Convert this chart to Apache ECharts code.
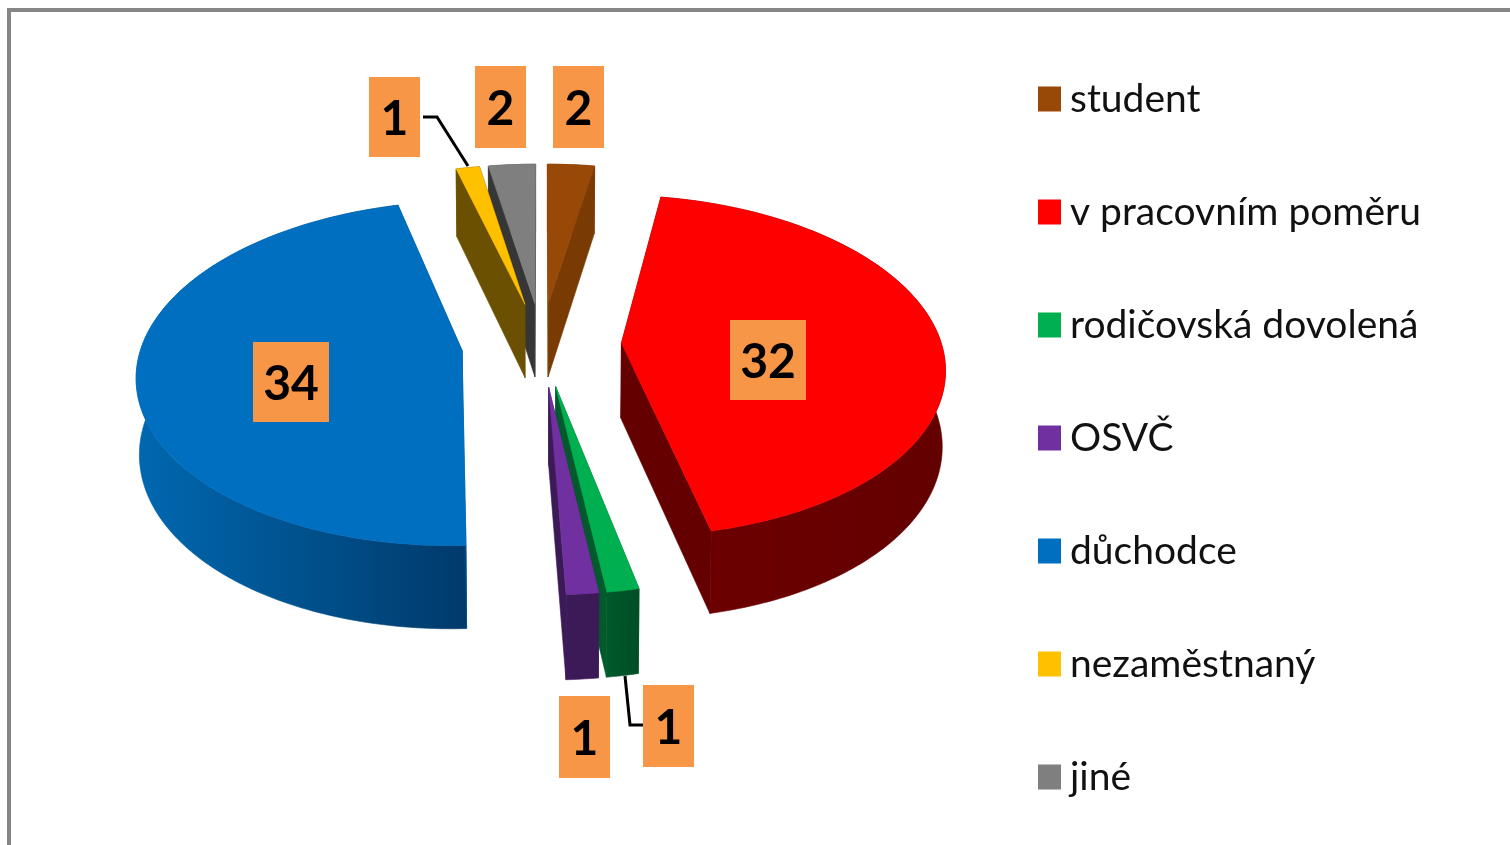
<!DOCTYPE html>
<html>
<head>
<meta charset="utf-8">
<style>
	html, body { margin: 0; padding: 0; background: #fff; }
	#chart { width: 1510px; height: 845px; }
</style>
<script src="https://cdn.jsdelivr.net/npm/echarts@6/dist/echarts.min.js"></script>
</head>
<body>
<div id="chart"></div>
<script>
// data
const categories = ['student', 'v pracovním poměru', 'rodičovská dovolená', 'OSVČ', 'důchodce', 'nezaměstnaný', 'jiné'];
const values = [2, 32, 1, 1, 34, 1, 2];
const topColors = ['#984807', '#ff0000', '#00b050', '#7030a0', '#006fc0', '#ffc000', '#7f7f7f'];
const wallColors = ['#7a3a03', '#640000', '#005a2c', '#3c1a58', '#004c86', '#6a5000', '#363636'];
const rimStops = [null, ['#6e0000', '#630000'], ['#005a2c', '#004d26'], ['#3c1a58', '#3c1a58'], ['#0068b0', '#003a6b'], ['#6a5000', '#6a5000'], ['#444', '#444']];

// data label boxes: [left, top, width, height]
const labelBoxes = [
	[553, 66, 51, 82],
	[730, 320, 76, 80],
	[643, 685, 51, 82],
	[559, 696, 51, 82],
	[253, 342, 76, 80],
	[369, 77, 51, 80],
	[475, 66, 51, 82]
];
const leaders = {
	2: [[625, 676], [630, 725], [643, 725]],
	5: [[423, 117], [437, 117], [468, 166]]
};

// projection of the tilted pie
const CX = 541.5, CY = 344, R = 320, EXPLODE = 80, DEPTH = 75;
const PX = 0.13, PY = 0.132, KY = 0.524;

function project(u, v, z) {
	const sx = 1 / (1 - PX * v / R);
	const sy = 1 / (1 - PY * v / R);
	return [
		CX + u * sx * (1 - 0.008 * z),
		CY + KY * v * sy + z * DEPTH * (1 + 0.7 * (sx - 1))
	];
}

const total = values.reduce((a, b) => a + b, 0);
let running = 0;
const slices = values.map((val) => {
	const a0 = running / total * Math.PI * 2;
	running += val;
	const a1 = running / total * Math.PI * 2;
	const mid = (a0 + a1) / 2;
	return {
		a0: a0, a1: a1,
		ou: EXPLODE * Math.sin(mid),
		ov: -EXPLODE * Math.cos(mid)
	};
});

function rimPoint(s, a, z) {
	return project(s.ou + R * Math.sin(a), s.ov - R * Math.cos(a), z);
}

function arc(s, z) {
	const pts = [];
	const n = Math.max(4, Math.ceil((s.a1 - s.a0) * 180 / Math.PI));
	for (let i = 0; i <= n; i++) {
		pts.push(rimPoint(s, s.a0 + (s.a1 - s.a0) * i / n, z));
	}
	return pts;
}

function poly(points, fill) {
	return {
		type: 'polygon',
		shape: { points: points },
		style: { fill: fill, stroke: fill, lineWidth: 0.6 }
	};
}

function renderSlice(params) {
	const i = params.seriesIndex;
	const s = slices[i];
	const apexT = project(s.ou, s.ov, 0);
	const apexB = project(s.ou, s.ov, 1);
	const children = [];

	// walls, back one first
	const walls = [s.a0, s.a1].map((a) => ({
		depth: s.ov - R * Math.cos(a),
		points: [apexT, rimPoint(s, a, 0), rimPoint(s, a, 1), apexB]
	})).sort((p, q) => p.depth - q.depth);

	const topArc = arc(s, 0);
	const botArc = arc(s, 1);
	const rimPts = topArc.concat(botArc.slice().reverse());
	let rimFill = wallColors[i];
	if (rimStops[i]) {
		const xs = rimPts.map((p) => p[0]);
		rimFill = {
			type: 'linear', global: true,
			x: Math.min.apply(null, xs), y: 0, x2: Math.max.apply(null, xs), y2: 0,
			colorStops: [{ offset: 0, color: rimStops[i][0] }, { offset: 1, color: rimStops[i][1] }]
		};
	}
	children.push(poly(walls[0].points, wallColors[i]));
	children.push(poly(rimPts, rimFill));
	children.push(poly(walls[1].points, wallColors[i]));
	children.push(poly([apexT].concat(topArc), topColors[i]));

	if (leaders[i]) {
		children.push({
			type: 'polyline',
			shape: { points: leaders[i] },
			style: { stroke: '#000', lineWidth: 3, fill: null }
		});
	}
	const b = labelBoxes[i];
	children.push({
		type: 'rect',
		shape: { x: b[0], y: b[1], width: b[2], height: b[3] },
		style: { fill: '#f79646' }
	});
	children.push({
		type: 'text',
		style: {
			x: b[0] + b[2] / 2, y: b[1] + b[3] / 2 + 3,
			text: String(values[i]),
			fill: '#000',
			font: 'bold 48px Lato',
			align: 'center', verticalAlign: 'middle'
		}
	});
	return { type: 'group', children: children };
}

// far slices get painted first
const order = slices.map((s, i) => i).sort((p, q) => slices[p].ov - slices[q].ov);

const option = {
	backgroundColor: '#fff',
	animation: false,
	color: topColors,
	legend: {
		orient: 'vertical',
		left: 1033,
		top: 74,
		itemWidth: 23,
		itemHeight: 25,
		itemGap: 73,
		icon: 'rect',
		selectedMode: false,
		data: categories,
		textStyle: {
			fontFamily: 'Lato',
			fontSize: 39,
			lineHeight: 40,
			color: '#111',
			padding: [0, 0, 0, 4]
		}
	},
	graphic: [{
		type: 'polyline',
		silent: true,
		shape: { points: [[9, 845], [9, 10], [1510, 10]] },
		style: { stroke: '#868686', lineWidth: 4, fill: null }
	}],
	series: categories.map((name, i) => ({
		type: 'custom',
		name: name,
		coordinateSystem: 'none',
		silent: true,
		z: 2 + order.indexOf(i),
		itemStyle: { color: topColors[i] },
		renderItem: renderSlice,
		data: [values[i]]
	}))
};

const myChart = echarts.init(document.getElementById('chart'), null, { renderer: 'canvas' });
myChart.setOption(option);
</script>
</body>
</html>
